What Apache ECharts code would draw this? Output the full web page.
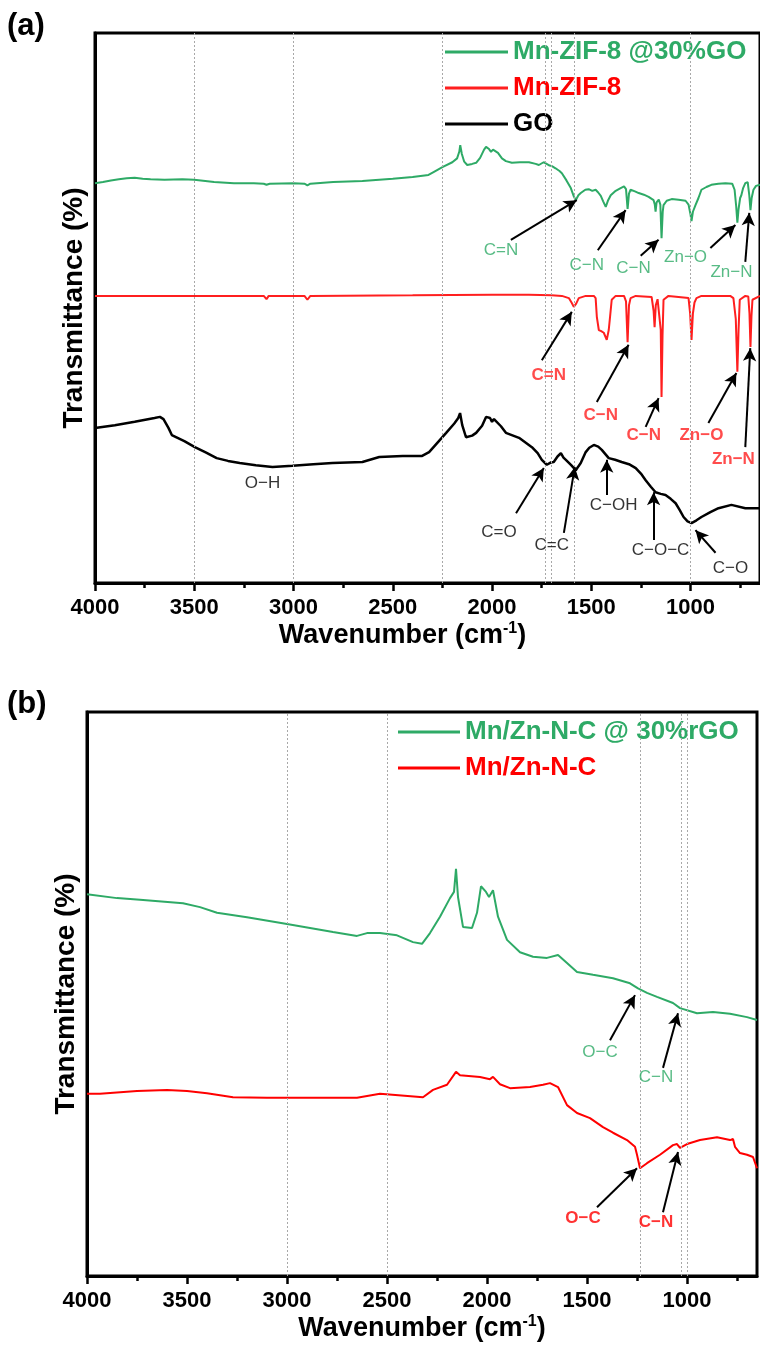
<!DOCTYPE html>
<html>
<head>
<meta charset="utf-8">
<script src="https://cdn.jsdelivr.net/npm/echarts@6/dist/echarts.min.js"></script>
<style>
  html, body { margin: 0; padding: 0; background: #ffffff; }
  #chart { width: 760px; height: 1353px; }
</style>
</head>
<body>
<div id="chart"></div>
<script>
// FTIR spectra, wavenumber (cm-1) vs. transmittance (offset, arbitrary units)

// ---- panel (a) ----
const zifGoA = [[4000,72.7],[3960,72.9],[3920,73.2],[3880,73.4],[3840,73.6],[3800,73.7],[3760,73.5],[3720,73.4],[3650,73.3],[3560,73.4],[3500,73.3],[3400,72.9],[3300,72.7],[3200,72.7],[3150,72.6],[3136,72.4],[3120,72.6],[3000,72.7],[2945,72.6],[2930,72.3],[2915,72.6],[2800,72.9],[2653,73.1],[2500,73.5],[2400,73.8],[2320,74.2],[2290,74.8],[2250,75.6],[2200,76.5],[2176,77.2],[2165,78.4],[2160,79.6],[2152,78.0],[2140,76.6],[2125,76.0],[2100,76.2],[2080,76.4],[2060,77.3],[2040,78.8],[2030,79.3],[2015,78.9],[2005,78.4],[1995,78.8],[1985,79.1],[1970,78.2],[1950,77.2],[1930,76.7],[1900,76.4],[1860,76.5],[1814,76.5],[1780,76.2],[1764,76.0],[1740,76.5],[1729,76.3],[1710,75.9],[1698,75.8],[1680,75.4],[1660,74.9],[1648,74.5],[1625,73.2],[1603,71.8],[1588,70.3],[1578,69.6],[1565,70.5],[1553,70.9],[1530,71.5],[1513,71.6],[1495,71.3],[1478,71.5],[1465,71.0],[1452,70.4],[1440,69.4],[1427,68.4],[1415,69.6],[1402,70.5],[1377,71.3],[1352,71.8],[1335,72.1],[1325,71.6],[1317,68.0],[1310,70.8],[1302,71.5],[1280,71.2],[1261,70.9],[1235,70.6],[1211,70.2],[1186,69.6],[1180,68.8],[1176,67.5],[1171,69.2],[1160,69.7],[1152,68.8],[1146,62.7],[1140,67.5],[1136,68.7],[1120,69.5],[1095,69.8],[1060,69.7],[1025,69.5],[1010,68.8],[1000,67.0],[995,65.8],[988,67.5],[975,68.7],[960,70.0],[945,71.5],[920,72.0],[895,72.4],[860,72.6],[824,72.7],[790,72.6],[778,71.5],[770,68.5],[764,65.5],[758,68.0],[750,70.0],[744,70.5],[735,71.8],[724,72.7],[712,72.9],[704,70.5],[698,67.8],[692,70.0],[683,71.5],[670,72.2],[650,72.4]];

const zifA = [[4000,52.2],[3600,52.2],[3150,52.2],[3136,51.6],[3125,52.2],[2945,52.2],[2930,51.5],[2915,52.2],[2400,52.3],[2000,52.4],[1814,52.4],[1700,52.3],[1648,52.2],[1613,51.8],[1598,50.9],[1588,50.2],[1576,50.8],[1563,51.8],[1528,52.2],[1487,52.2],[1478,51.8],[1472,48.4],[1462,46.0],[1450,45.8],[1437,45.5],[1422,44.2],[1412,46.0],[1407,47.8],[1397,51.5],[1377,52.2],[1335,52.2],[1325,51.2],[1317,43.8],[1310,50.5],[1302,51.8],[1276,52.2],[1196,52.0],[1186,49.5],[1181,46.5],[1175,50.5],[1166,51.6],[1156,51.8],[1150,46.0],[1146,33.8],[1141,45.0],[1136,51.5],[1111,52.2],[1010,51.8],[1002,49.0],[995,44.2],[988,49.0],[980,51.0],[970,51.8],[945,52.2],[800,52.2],[784,51.8],[772,48.0],[764,38.4],[758,46.0],[752,51.5],[724,52.2],[709,52.1],[703,49.0],[698,42.9],[693,48.5],[688,51.5],[650,52.2]];

const goA = [[4000,28.2],[3900,28.7],[3800,29.3],[3700,30.0],[3673,30.2],[3655,29.8],[3630,28.2],[3613,26.9],[3550,25.8],[3497,24.7],[3440,23.7],[3387,22.7],[3330,22.2],[3271,21.8],[3190,21.4],[3106,21.1],[3005,21.3],[2900,21.6],[2804,21.8],[2653,22.0],[2568,22.9],[2450,23.1],[2352,23.1],[2317,23.8],[2280,25.3],[2231,27.3],[2190,29.0],[2170,30.0],[2161,30.9],[2150,28.7],[2131,26.5],[2100,26.8],[2080,27.3],[2050,28.6],[2030,30.2],[2010,30.0],[2000,29.3],[1990,29.8],[1980,30.0],[1955,28.5],[1930,27.3],[1864,26.4],[1799,24.7],[1770,23.6],[1749,22.4],[1724,21.5],[1705,21.9],[1689,22.0],[1670,23.0],[1653,23.6],[1640,22.8],[1628,22.4],[1600,21.4],[1578,20.5],[1565,21.2],[1553,21.8],[1528,23.8],[1510,24.6],[1487,25.1],[1465,24.8],[1447,24.2],[1412,22.7],[1380,22.4],[1347,22.0],[1310,21.6],[1276,20.9],[1250,19.9],[1226,18.7],[1200,17.5],[1176,16.5],[1150,16.2],[1126,16.0],[1100,15.3],[1075,14.5],[1055,13.3],[1035,12.0],[1015,11.2],[995,10.9],[970,11.4],[945,12.0],[900,12.9],[859,13.6],[794,14.2],[724,13.6],[650,13.6]];

// ---- panel (b) ----
const nc30B = [[4000,67.7],[3850,67.0],[3735,66.7],[3520,66.1],[3435,65.4],[3350,64.4],[3200,63.6],[3000,62.4],[2770,61.0],[2650,60.3],[2600,60.8],[2535,60.8],[2450,60.4],[2370,59.2],[2325,58.9],[2285,60.8],[2235,63.7],[2185,67.0],[2165,68.1],[2155,72.2],[2145,67.2],[2120,61.9],[2075,61.7],[2050,64.4],[2030,69.1],[2005,68.1],[1990,67.2],[1970,68.4],[1945,63.7],[1900,59.6],[1835,57.4],[1770,56.6],[1700,56.4],[1645,56.9],[1600,55.5],[1550,53.9],[1470,53.4],[1370,52.8],[1285,51.9],[1245,51.0],[1200,50.2],[1150,49.5],[1070,48.4],[1035,47.5],[950,46.6],[870,46.8],[785,46.5],[700,45.9],[650,45.4]];

const ncB = [[4000,32.3],[3935,32.3],[3750,32.8],[3600,33.0],[3500,32.8],[3400,32.4],[3270,31.7],[3100,31.6],[3000,31.6],[2770,31.6],[2650,31.6],[2535,32.3],[2320,31.7],[2270,33.0],[2200,33.9],[2155,36.2],[2135,35.6],[2035,35.3],[1985,34.9],[1970,35.3],[1935,34.0],[1885,33.3],[1785,33.5],[1720,33.9],[1685,34.2],[1645,33.5],[1600,30.3],[1550,28.9],[1485,28.0],[1420,26.4],[1370,25.4],[1300,24.1],[1260,22.9],[1250,21.5],[1235,19.1],[1200,20.0],[1135,21.5],[1070,23.2],[1050,23.4],[1035,22.7],[1000,23.4],[935,24.1],[850,24.6],[785,24.1],[770,24.3],[760,22.9],[735,21.8],[700,21.5],[670,21.1],[650,19.1]];

// axis ticks and reference lines (cm-1)
const majorTicks = [1000, 1500, 2000, 2500, 3000, 3500, 4000];
const minorTicks = [750, 1250, 1750, 2250, 2750, 3250, 3750];
const refLinesA = [3500, 3000, 2250, 1730, 1700, 1585, 1000];
const refLinesB = [3000, 2500, 1235, 1030, 1000];

// band assignments: label centre, arrow tail and arrow head in (wavenumber, transmittance)
const bandsA = [
  { text: 'C=N',   color: 'green', at: [1955, 60.5], from: [1905, 62.4], to: [1573, 69.6] },
  { text: 'C−N',   color: 'green', at: [1523, 57.8], from: [1467, 60.5], to: [1327, 67.8] },
  { text: 'C−N',   color: 'green', at: [1287, 57.3], from: [1251, 59.5], to: [1161, 62.4] },
  { text: 'Zn−O',  color: 'green', at: [1025, 59.3], from: [900, 60.9],  to: [774, 65.1] },
  { text: 'Zn−N',  color: 'green', at: [794, 56.4],  from: [724, 58.4],  to: [704, 67.3] },
  { text: 'C=N',   color: 'red',   at: [1714, 37.8], from: [1749, 40.5], to: [1598, 49.3] },
  { text: 'C−N',   color: 'red',   at: [1452, 30.5], from: [1472, 32.9], to: [1312, 43.3] },
  { text: 'C−N',   color: 'red',   at: [1236, 26.9], from: [1226, 28.4], to: [1161, 33.6] },
  { text: 'Zn−O',  color: 'red',   at: [945, 26.9],  from: [910, 29.1],  to: [769, 38.2] },
  { text: 'Zn−N',  color: 'red',   at: [784, 22.4],  from: [724, 24.7],  to: [699, 42.7] },
  { text: 'O−H',   color: 'black', at: [3156, 18.2] },
  { text: 'C=O',   color: 'black', at: [1965, 9.3],  from: [1879, 12.7], to: [1739, 20.9] },
  { text: 'C=C',   color: 'black', at: [1699, 6.9],  from: [1638, 9.1],  to: [1583, 21.1] },
  { text: 'C−OH',  color: 'black', at: [1387, 14.2], from: [1422, 16.0], to: [1422, 22.4] },
  { text: 'C−O−C', color: 'black', at: [1151, 6.0],  from: [1186, 7.8],  to: [1186, 16.5] },
  { text: 'C−O',   color: 'black', at: [799, 2.7],   from: [874, 5.5],   to: [975, 9.6] }
];
const bandsB = [
  { text: 'O−C', color: 'green', at: [1435, 39.7], from: [1385, 41.8], to: [1260, 49.8] },
  { text: 'C−N', color: 'green', at: [1155, 35.3], from: [1120, 36.9], to: [1045, 46.6] },
  { text: 'O−C', color: 'red',   at: [1520, 10.3], from: [1450, 12.2], to: [1250, 19.1] },
  { text: 'C−N', color: 'red',   at: [1155, 9.6],  from: [1120, 11.3], to: [1045, 22.0] }
];

const FONT = '"Liberation Sans", Arial, Helvetica, sans-serif';
const COLORS = { green: '#2eaa66', red: '#ff1f1f', black: '#000000' };
const RED_B = '#ff0000';

function xAxes(gridIndex, nameShift) {
  const base = {
    type: 'value', gridIndex: gridIndex, min: 650, max: 4000, inverse: true,
    position: 'bottom',
    splitLine: { show: false }
  };
  return [
    Object.assign({}, base, {
      name: '{t|Wavenumber (cm}{s|-1}{t|)}',
      nameLocation: 'middle',
      nameGap: 38,
      nameTextStyle: {
        padding: nameShift > 0 ? [0, nameShift, 0, 0] : [0, 0, 0, 0],
        rich: {
          t: { fontFamily: FONT, fontSize: 27, fontWeight: 'bold', color: '#000', lineHeight: 30 },
          s: { fontFamily: FONT, fontSize: 16, fontWeight: 'bold', color: '#000', verticalAlign: 'top', lineHeight: 30 }
        }
      },
      axisLine: { show: true, lineStyle: { color: '#000', width: 3 } },
      axisTick: { show: true, inside: false, length: 8, lineStyle: { color: '#000', width: 2.5 }, customValues: majorTicks },
      axisLabel: {
        show: true, margin: 14, customValues: majorTicks,
        formatter: (v) => String(v),
        fontFamily: FONT, fontSize: 22, fontWeight: 'bold', color: '#000'
      }
    }),
    Object.assign({}, base, {
      axisLine: { show: false },
      axisTick: { show: true, inside: false, length: 5, lineStyle: { color: '#000', width: 2.5 }, customValues: minorTicks },
      axisLabel: { show: false }
    })
  ];
}

function yAxis(gridIndex) {
  return {
    type: 'value', gridIndex: gridIndex, min: 0, max: 100,
    name: 'Transmittance (%)',
    nameLocation: 'middle',
    nameRotate: 90,
    nameGap: 7,
    nameTextStyle: { fontFamily: FONT, fontSize: 28, fontWeight: 'bold', color: '#000' },
    axisLine: { show: true, lineStyle: { color: '#000', width: 3 } },
    axisTick: { show: false },
    axisLabel: { show: false },
    splitLine: { show: false }
  };
}

function curve(name, data, color, xIdx, yIdx, width) {
  return {
    name: name, type: 'line', data: data, xAxisIndex: xIdx, yAxisIndex: yIdx,
    showSymbol: false, symbol: 'none', smooth: false, z: 3,
    lineStyle: { color: color, width: width || 2 }, itemStyle: { color: color },
    emphasis: { disabled: true }, silent: true
  };
}

function refLines(values, xIdx, yIdx) {
  return {
    type: 'line', data: [], xAxisIndex: xIdx, yAxisIndex: yIdx, z: 1, silent: true,
    markLine: {
      silent: true, symbol: ['none', 'none'], animation: false,
      label: { show: false },
      lineStyle: { color: '#a8a8a8', width: 1, type: [2, 2] },
      emphasis: { disabled: true },
      data: values.map(v => ({ xAxis: v }))
    }
  };
}

function bandLabels(bands, colorMap, xIdx, yIdx) {
  return {
    type: 'scatter', xAxisIndex: xIdx, yAxisIndex: yIdx, z: 5, silent: true,
    symbolSize: 1, itemStyle: { color: 'rgba(0,0,0,0)' },
    labelLayout: { hideOverlap: false },
    data: bands.map(b => ({
      value: b.at,
      name: b.text,
      label: {
        show: true, position: 'inside', formatter: b.text,
        fontFamily: FONT, fontSize: 17,
        fontWeight: b.color === 'red' ? 'bold' : 'normal',
        color: colorMap[b.color],
        textBorderWidth: 0, textBorderColor: 'transparent'
      }
    })),
    markLine: {
      silent: true, animation: false,
      symbol: ['none', 'arrow'], symbolSize: [10, 13],
      label: { show: false },
      emphasis: { disabled: true },
      lineStyle: { color: '#000', width: 2, type: 'solid' },
      data: bands.filter(b => b.from).map(b => [{ coord: b.from }, { coord: b.to }])
    }
  };
}

const legendText = (color) => ({ fontFamily: FONT, fontSize: 26, fontWeight: 'bold', color: color, lineHeight: 26 });

const option = {
  animation: false,
  backgroundColor: '#ffffff',
  title: [
    { text: '(a)', left: 7, top: 11, padding: 0, textStyle: { fontFamily: FONT, fontSize: 31, fontWeight: 'bold', color: '#000' } },
    { text: '(b)', left: 7, top: 689, padding: 0, textStyle: { fontFamily: FONT, fontSize: 31, fontWeight: 'bold', color: '#000' } }
  ],
  grid: [
    { left: 95, top: 33, width: 667, height: 550, show: true, borderColor: '#000', borderWidth: 3, backgroundColor: 'transparent' },
    { left: 87, top: 712, width: 670, height: 564, show: true, borderColor: '#000', borderWidth: 3, backgroundColor: 'transparent' }
  ],
  xAxis: xAxes(0, 50).concat(xAxes(1, 0)),
  yAxis: [yAxis(0), yAxis(1)],
  legend: [
    {
      orient: 'vertical', left: 445, top: 39, itemWidth: 63, itemHeight: 3, itemGap: 10,
      icon: 'rect', selectedMode: false, padding: 0,
      data: [
        { name: 'Mn-ZIF-8 @30%GO', textStyle: legendText(COLORS.green) },
        { name: 'Mn-ZIF-8', textStyle: legendText('#ff0000') },
        { name: 'GO', textStyle: legendText('#000000') }
      ]
    },
    {
      orient: 'vertical', left: 398, top: 719, itemWidth: 62, itemHeight: 3, itemGap: 10,
      icon: 'rect', selectedMode: false, padding: 0,
      data: [
        { name: 'Mn/Zn-N-C @ 30%rGO', textStyle: legendText(COLORS.green) },
        { name: 'Mn/Zn-N-C', textStyle: legendText('#ff0000') }
      ]
    }
  ],
  series: [
    refLines(refLinesA, 0, 0),
    curve('Mn-ZIF-8 @30%GO', zifGoA, COLORS.green, 0, 0),
    curve('Mn-ZIF-8', zifA, COLORS.red, 0, 0),
    curve('GO', goA, COLORS.black, 0, 0, 2.5),
    bandLabels(bandsA, COLORS, 0, 0),
    refLines(refLinesB, 2, 1),
    curve('Mn/Zn-N-C @ 30%rGO', nc30B, COLORS.green, 2, 1),
    curve('Mn/Zn-N-C', ncB, RED_B, 2, 1),
    bandLabels(bandsB, { green: COLORS.green, red: RED_B, black: '#000' }, 2, 1)
  ]
};

const chart = echarts.init(document.getElementById('chart'), null, { renderer: 'canvas' });
chart.setOption(option);
</script>
</body>
</html>
